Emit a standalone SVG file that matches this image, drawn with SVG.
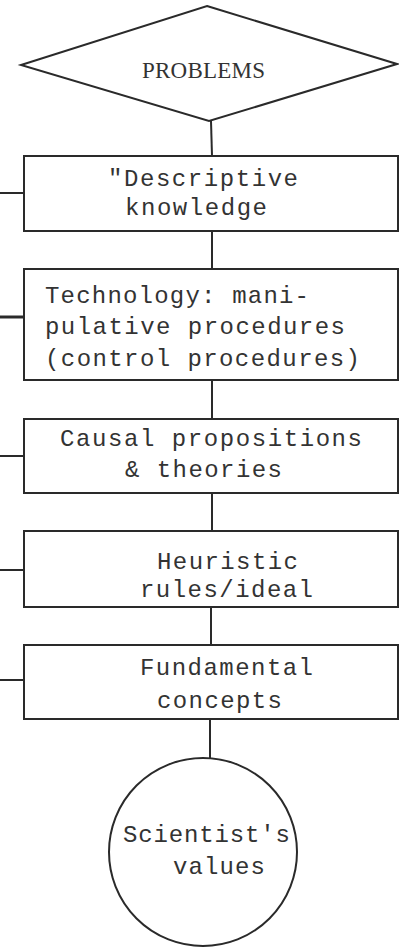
<svg xmlns="http://www.w3.org/2000/svg" width="399" height="947" viewBox="0 0 399 947">
<style>
.shape{fill:#fff;stroke:#2a2a2a;stroke-width:2}
.conn line{stroke:#2a2a2a;stroke-width:2}
.t{font-family:"Liberation Mono","DejaVu Sans Mono",monospace;font-size:24px;fill:#333}
.s{font-family:"Liberation Serif","DejaVu Serif",serif;font-size:23px;fill:#333}
</style>
<rect width="399" height="947" fill="#fff"/>
<g id="connectors" class="conn">
<line x1="211" y1="121" x2="212" y2="156"/>
<line x1="212" y1="231" x2="212" y2="269"/>
<line x1="212" y1="380" x2="212" y2="419"/>
<line x1="212" y1="493" x2="212" y2="531"/>
<line x1="211" y1="607" x2="211" y2="645"/>
<line x1="210" y1="719" x2="210" y2="758"/>
<line x1="0" y1="193" x2="24" y2="193"/>
<line x1="0" y1="317" x2="24" y2="317" style="stroke-width:3"/>
<line x1="0" y1="456" x2="24" y2="456"/>
<line x1="0" y1="570" x2="24" y2="570"/>
<line x1="0" y1="680" x2="24" y2="680"/>
</g>
<g id="problems">
<polygon class="shape" points="207,6 397,64 209,121 21,65"/>
<text class="s" x="142" y="78" textLength="123" lengthAdjust="spacing">PROBLEMS</text>
</g>
<g id="descriptive">
<rect class="shape" x="24" y="156" width="374" height="75"/>
<text class="t" x="108" y="186" textLength="190" lengthAdjust="spacing">"Descriptive</text>
<text class="t" x="125" y="215" textLength="142" lengthAdjust="spacing">knowledge</text>
</g>
<g id="technology">
<rect class="shape" x="24" y="269" width="374" height="111"/>
<text class="t" x="45" y="303" textLength="264" lengthAdjust="spacing">Technology: mani-</text>
<text class="t" x="45" y="334" textLength="300" lengthAdjust="spacing">pulative procedures</text>
<text class="t" x="45" y="366" textLength="315" lengthAdjust="spacing">(control procedures)</text>
</g>
<g id="causal">
<rect class="shape" x="24" y="419" width="374" height="74"/>
<text class="t" x="60" y="446" textLength="302" lengthAdjust="spacing">Causal propositions</text>
<text class="t" x="125" y="477" textLength="157" lengthAdjust="spacing">&amp; theories</text>
</g>
<g id="heuristic">
<rect class="shape" x="24" y="531" width="374" height="76"/>
<text class="t" x="157" y="569" textLength="141" lengthAdjust="spacing">Heuristic</text>
<text class="t" x="140" y="597" textLength="173" lengthAdjust="spacing">rules/ideal</text>
</g>
<g id="fundamental">
<rect class="shape" x="24" y="645" width="374" height="74"/>
<text class="t" x="140" y="675" textLength="173" lengthAdjust="spacing">Fundamental</text>
<text class="t" x="157" y="708" textLength="125" lengthAdjust="spacing">concepts</text>
</g>
<g id="values">
<circle class="shape" cx="203" cy="852" r="94"/>
<text class="t" x="123" y="842" textLength="167" lengthAdjust="spacing">Scientist's</text>
<text class="t" x="173" y="874" textLength="92" lengthAdjust="spacing">values</text>
</g>
</svg>
